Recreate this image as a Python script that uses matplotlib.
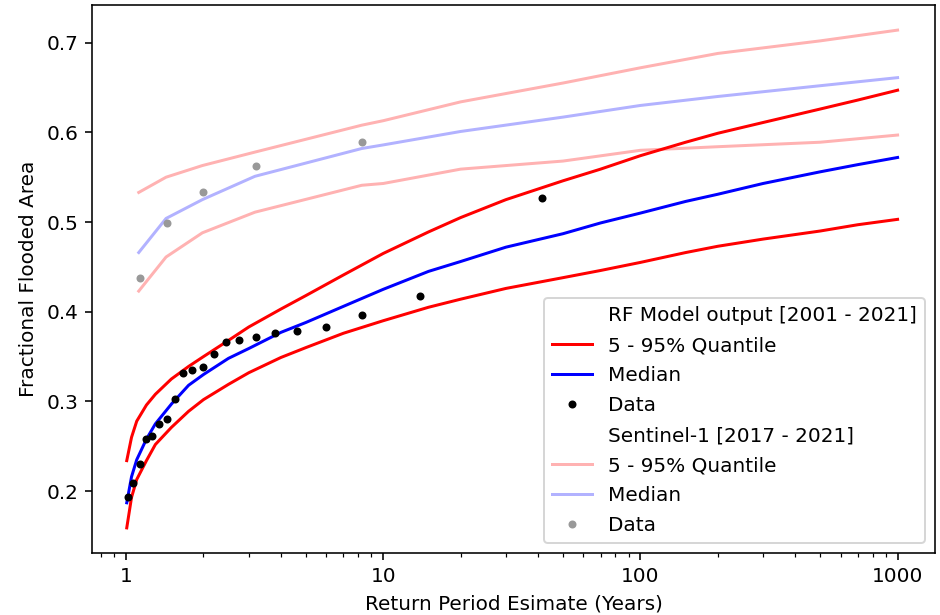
import matplotlib
matplotlib.use("Agg")
import matplotlib.pyplot as plt
from matplotlib.ticker import ScalarFormatter, NullFormatter

# RF model fitted curves (return period in years)
rp_model = [1.006, 1.05, 1.1, 1.2, 1.3, 1.5, 1.75, 2, 2.5, 3, 4, 5, 7, 10,
            15, 20, 30, 50, 70, 100, 150, 200, 300, 500, 700, 1000]
model_q95 = [0.234, 0.260, 0.278, 0.296, 0.308, 0.325, 0.339, 0.350, 0.368, 0.383,
             0.403, 0.418, 0.441, 0.465, 0.489, 0.505, 0.525, 0.546, 0.559, 0.574,
             0.589, 0.599, 0.611, 0.626, 0.636, 0.647]
model_med = [0.187, 0.216, 0.235, 0.258, 0.275, 0.297, 0.318, 0.330, 0.348, 0.359,
             0.377, 0.388, 0.406, 0.425, 0.445, 0.456, 0.472, 0.487, 0.499, 0.510,
             0.523, 0.531, 0.543, 0.556, 0.564, 0.572]
model_q05 = [0.159, 0.193, 0.213, 0.234, 0.252, 0.271, 0.289, 0.302, 0.319, 0.332,
             0.349, 0.360, 0.376, 0.390, 0.405, 0.414, 0.426, 0.438, 0.446, 0.455,
             0.466, 0.473, 0.481, 0.490, 0.497, 0.503]

# annual maxima from the model run, 2001 - 2021
rp_obs = [1.018, 1.062, 1.131, 1.193, 1.259, 1.34, 1.445, 1.55, 1.67, 1.81, 1.99,
          2.2, 2.44, 2.76, 3.2, 3.79, 4.64, 5.98, 8.28, 13.9, 41.6]
ffa_obs = [0.193, 0.209, 0.230, 0.258, 0.261, 0.275, 0.280, 0.303, 0.332, 0.335,
           0.338, 0.353, 0.366, 0.368, 0.372, 0.376, 0.378, 0.383, 0.396, 0.417, 0.527]

# Sentinel-1 based curves
rp_s1 = [1.12, 1.43, 1.98, 3.17, 8.25, 10, 20, 50, 100, 200, 500, 1000]
s1_q95 = [0.533, 0.550, 0.563, 0.578, 0.608, 0.613, 0.634, 0.655, 0.672, 0.688, 0.702, 0.714]
s1_med = [0.466, 0.504, 0.525, 0.551, 0.582, 0.586, 0.601, 0.617, 0.630, 0.640, 0.652, 0.661]
s1_q05 = [0.423, 0.461, 0.488, 0.511, 0.541, 0.543, 0.559, 0.568, 0.580, 0.584, 0.589, 0.597]

rp_s1_obs = [1.13, 1.44, 1.99, 3.2, 8.3]
ffa_s1_obs = [0.438, 0.499, 0.534, 0.562, 0.589]

fig = plt.figure(figsize=(940 / 144, 615 / 144), dpi=144)
ax = fig.add_axes([92 / 940, 1 - 553 / 615, (935 - 92) / 940, (553 - 5) / 615])

ax.plot([], [], ' ', label='RF Model output [2001 - 2021]')
ax.plot(rp_model, model_q05, 'r', label='5 - 95% Quantile')
ax.plot(rp_model, model_q95, 'r')
ax.plot(rp_model, model_med, 'b', label='Median')
ax.plot(rp_obs, ffa_obs, 'k.', label='Data')

ax.plot([], [], ' ', label='Sentinel-1 [2017 - 2021]')
ax.plot(rp_s1, s1_q05, 'r', alpha=0.3, label='5 - 95% Quantile')
ax.plot(rp_s1, s1_q95, 'r', alpha=0.3)
ax.plot(rp_s1, s1_med, 'b', alpha=0.3, label='Median')
ax.plot(rp_s1_obs, ffa_s1_obs, '.', color='0.6', label='Data')

ax.set_xscale('log')
ax.set_xlim(0.737, 1398)
ax.set_ylim(0.131, 0.742)
ax.xaxis.set_major_formatter(ScalarFormatter())
ax.xaxis.set_minor_formatter(NullFormatter())

ax.set_xlabel('Return Period Esimate (Years)')
ax.set_ylabel('Fractional Flooded Area')
ax.legend(loc='lower right', labelspacing=0.55)

fig.savefig('out.png', dpi=144)
